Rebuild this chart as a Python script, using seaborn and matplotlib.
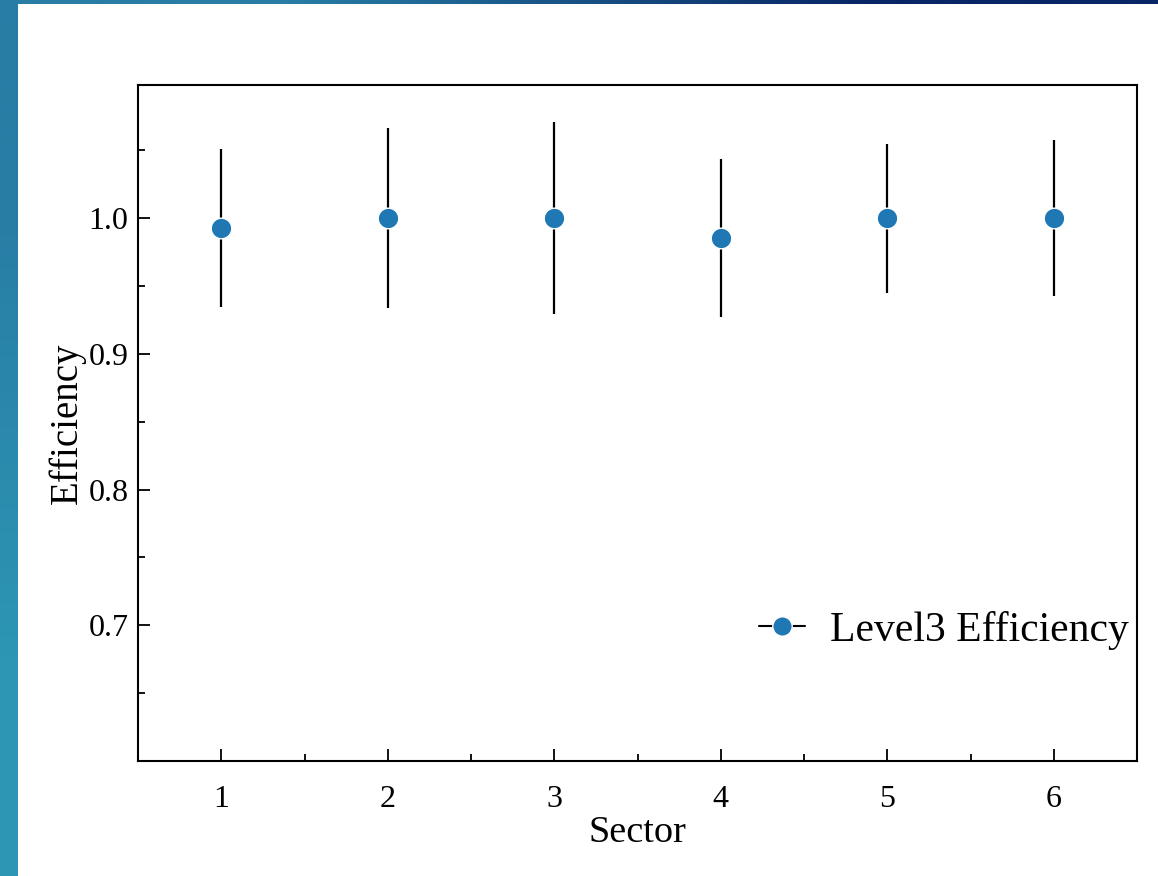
import numpy as np
import matplotlib
matplotlib.use("Agg")
import matplotlib.pyplot as plt
from matplotlib.lines import Line2D
from matplotlib.patches import Rectangle
from matplotlib.ticker import MultipleLocator
import seaborn as sns

# Level3 trigger efficiency per sector
sectors = [1, 2, 3, 4, 5, 6]
efficiency = [0.9926, 1.0, 1.0, 0.9853, 1.0, 1.0]
efficiency_err = [0.0579, 0.0665, 0.0710, 0.0583, 0.0549, 0.0578]
legend_label = "Level3 Efficiency"
x_label = "Sector"
y_label = "Efficiency"

sns.set_style("white")
plt.rcParams["font.family"] = ["Liberation Serif", "DejaVu Serif"]
plt.rcParams["mathtext.fontset"] = "dejavuserif"
for key in ("text.color", "axes.labelcolor", "xtick.color", "ytick.color"):
    plt.rcParams[key] = "black"

fig = plt.figure(figsize=(11.58, 8.76), dpi=100)

# slide backdrop: blue gradient frame with a white page on top
bg = fig.add_axes([0, 0, 1, 1], zorder=-10)
grad = np.array([
    [[40, 125, 165], [8, 38, 100]],
    [[45, 150, 180], [20, 90, 140]],
], dtype=float) / 255.0
bg.imshow(grad, aspect="auto", interpolation="bilinear", extent=[0, 1, 0, 1])
bg.set_axis_off()
fig.add_artist(Rectangle((18 / 1158, 0), 1 - 18 / 1158, 1 - 4 / 876,
                         transform=fig.transFigure, facecolor="white",
                         edgecolor="none", zorder=-5))

ax = fig.add_axes([138 / 1158, 1 - 761 / 876, (1137 - 138) / 1158, (761 - 85) / 876])
ax.set_facecolor("white")

point_color = "#1f77b4"
ax.errorbar(sectors, efficiency, yerr=efficiency_err, fmt="none",
            ecolor="black", elinewidth=1.6, capsize=0, zorder=2)
sns.scatterplot(x=sectors, y=efficiency, ax=ax, s=220, color=point_color,
                edgecolor="white", linewidth=1.0, zorder=3, legend=False)

ax.set_xlim(0.5, 6.5)
ax.set_ylim(0.6, 1.098)
ax.xaxis.set_major_locator(MultipleLocator(1))
ax.xaxis.set_minor_locator(MultipleLocator(0.5))
ax.yaxis.set_minor_locator(MultipleLocator(0.05))
ax.set_yticks([0.7, 0.8, 0.9, 1.0])
ax.set_yticklabels(["0.7", "0.8", "0.9", "1.0"])

ax.tick_params(which="both", direction="in", left=True, bottom=True,
               top=False, right=False, width=1.3, color="black",
               labelcolor="black", labelsize=23)
ax.tick_params(axis="y", which="both", pad=7)
ax.tick_params(axis="x", which="both", pad=17)
ax.tick_params(which="major", length=8.6)
ax.tick_params(which="minor", length=5)

for sp in ax.spines.values():
    sp.set_color("black")
    sp.set_linewidth(1.5)

ax.set_xlabel(x_label, fontsize=27.5, labelpad=1)
ax.set_ylabel(y_label, fontsize=28)
ax.yaxis.set_label_coords(-0.052, 0.5)

handle = Line2D([], [], color="black", linewidth=1.5, marker="o",
                markersize=14, markerfacecolor=point_color,
                markeredgecolor="white", markeredgewidth=1.0)
ax.legend([handle], [legend_label], loc="center right",
          bbox_to_anchor=(1.0, 0.193), frameon=False, fontsize=30,
          handlelength=1.1, handletextpad=0.6, borderaxespad=0,
          borderpad=0.2, labelcolor="black")

fig.savefig("out.png", dpi=100)
